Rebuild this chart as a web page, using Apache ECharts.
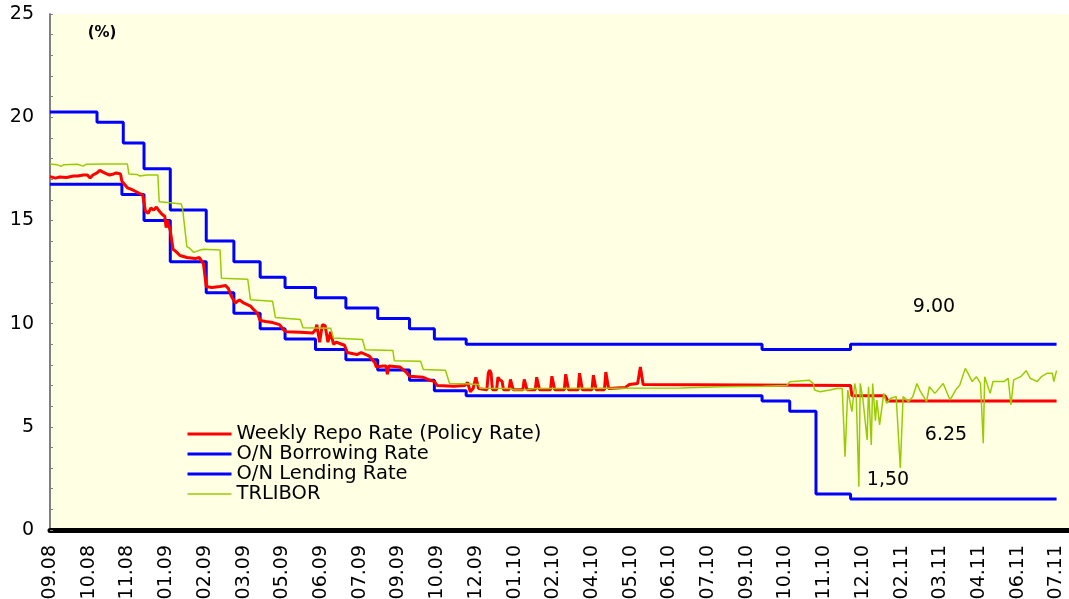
<!DOCTYPE html>
<html>
<head>
<meta charset="utf-8">
<script src="https://cdn.jsdelivr.net/npm/echarts@6/dist/echarts.min.js"></script>
<style>
html,body{margin:0;padding:0;background:#fff;}
#chart{width:1069px;height:599px;}
</style>
</head>
<body>
<div id="chart"></div>
<script>
// x = business-day index from 09.08 (one tick label every 28 days)
const tickLabels = ['09.08','10.08','11.08','01.09','02.09','03.09','05.09','06.09','07.09','09.09','10.09','12.09','01.10','02.10','04.10','05.10','06.10','07.10','09.10','10.10','11.10','12.10','02.11','03.11','04.11','06.11','07.11'];
const daysPerTick = 28;

const seriesNames = ['Weekly Repo Rate (Policy Rate)','O/N Borrowing Rate','O/N Lending Rate','TRLIBOR'];

// O/N Lending Rate: [day, rate] change points (step)
const lendingRate = [[0,20.25],[34,19.75],[53,18.75],[68,17.5],[87,15.5],[113,14.0],[133,13.0],[152,12.25],[170,11.75],[192,11.25],[214,10.75],[237,10.25],[260,9.75],[278,9.25],[301,9.0],[515,8.75],[579,9.0],[728,9.0]];

// O/N Borrowing Rate: [day, rate] change points (step)
const borrowingRate = [[0,16.75],[52,16.25],[68,15.0],[87,13.0],[113,11.5],[133,10.5],[152,9.75],[170,9.25],[192,8.75],[214,8.25],[237,7.75],[260,7.25],[278,6.75],[301,6.5],[515,6.25],[535,5.75],[554,1.75],[579,1.5],[728,1.5]];

// Weekly repo rate: [day, rate]
const repoRate = [[0,17.12],[4,17.05],[7,17.1],[12,17.08],[17,17.15],[20,17.15],[24,17.2],[27,17.2],[29,17.05],[31,17.2],[34,17.3],[36,17.42],[38,17.35],[41,17.25],[43,17.2],[46,17.25],[48,17.3],[51,17.25],[52,16.9],[56,16.58],[59,16.5],[62,16.4],[65,16.3],[67,16.25],[69,15.45],[71,15.35],[73,15.6],[75,15.5],[77,15.65],[79,15.45],[81,15.3],[83,15.2],[84,14.65],[85,15.0],[87,14.5],[89,13.6],[91,13.5],[94,13.3],[99,13.2],[105,13.15],[108,13.2],[111,12.9],[113,11.8],[117,11.75],[123,11.8],[127,11.85],[129,11.7],[131,11.35],[134,11.0],[137,11.15],[140,11.0],[145,10.85],[147,10.7],[150,10.5],[152,10.15],[156,10.1],[161,10.05],[166,9.95],[169,9.7],[171,9.6],[181,9.58],[190,9.55],[192,9.7],[193,9.95],[195,9.1],[197,9.95],[199,9.9],[201,9.1],[203,9.6],[205,9.0],[207,9.1],[211,9.0],[213,8.95],[215,8.6],[222,8.5],[225,8.6],[231,8.42],[235,8.1],[236,7.9],[241,7.95],[243,7.95],[244,7.55],[245,7.95],[253,7.9],[258,7.62],[260,7.45],[270,7.4],[275,7.25],[278,7.2],[280,7.0],[292,6.97],[300,7.0],[302,7.15],[304,6.7],[306,6.85],[307,6.85],[308,7.4],[309,7.45],[310,6.85],[316,6.8],[317,7.6],[318,7.75],[319,7.6],[320,6.8],[323,6.8],[324,7.4],[325,7.3],[326,7.35],[327,7.2],[328,6.8],[332,6.8],[333,7.3],[334,7.25],[335,6.8],[342,6.8],[343,7.3],[344,7.25],[345,6.8],[351,6.8],[352,7.4],[353,7.35],[354,6.8],[362,6.8],[363,7.45],[364,7.4],[365,6.8],[372,6.8],[373,7.55],[374,7.5],[375,6.8],[382,6.8],[383,7.6],[384,7.55],[385,6.8],[392,6.8],[393,7.5],[394,7.45],[395,6.8],[401,6.8],[402,7.65],[403,7.6],[404,6.85],[416,6.9],[419,7.05],[425,7.1],[426,7.1],[427,7.9],[428,7.85],[429,7.05],[430,7.0],[579,7.0],[580,6.5],[604,6.5],[606,6.25],[728,6.25]];

// TRLIBOR: [day, rate]
const trlibor = [[0,17.73],[5,17.7],[8,17.62],[10,17.7],[20,17.72],[24,17.63],[26,17.72],[40,17.73],[56,17.73],[57,17.25],[63,17.22],[65,17.15],[70,17.2],[78,17.2],[79,15.9],[87,15.85],[95,15.8],[96,15.5],[99,13.73],[101,13.65],[104,13.45],[106,13.5],[108,13.55],[111,13.6],[123,13.57],[124,12.2],[143,12.15],[145,11.15],[161,11.08],[163,10.3],[181,10.2],[183,9.8],[203,9.78],[205,9.3],[226,9.23],[228,8.73],[248,8.7],[249,8.2],[268,8.18],[270,7.78],[286,7.74],[289,7.1],[300,7.08],[310,7.05],[311,6.87],[333,6.85],[336,6.78],[345,6.8],[350,6.86],[400,6.87],[456,6.88],[487,6.94],[516,6.97],[533,7.0],[535,7.18],[549,7.26],[552,7.1],[553,6.78],[557,6.7],[564,6.78],[569,6.86],[573,6.86],[575,3.55],[577,6.78],[580,5.73],[582,7.1],[583,6.78],[585,2.1],[586,7.1],[588,6.3],[591,4.36],[592,6.94],[594,4.12],[595,7.1],[597,5.3],[598,6.3],[600,5.09],[603,6.62],[605,6.14],[608,6.38],[612,6.46],[615,3.0],[617,6.46],[621,6.22],[624,6.46],[627,7.1],[629,6.78],[634,6.22],[636,6.94],[640,6.62],[646,7.1],[651,6.3],[655,6.78],[658,7.02],[662,7.83],[664,7.59],[667,7.19],[670,7.43],[673,7.1],[675,4.2],[676,7.43],[680,6.62],[682,7.19],[690,7.19],[693,7.35],[695,6.06],[697,7.27],[702,7.43],[706,7.72],[709,7.35],[714,7.19],[717,7.43],[721,7.59],[725,7.59],[726,7.19],[728,7.72]];

const FONT = 'DejaVu Sans';
const chart = echarts.init(document.getElementById('chart'), null, {renderer:'canvas'});
chart.setOption({
  animation: false,
  backgroundColor: '#ffffff',
  grid: {left: 50, right: 0, top: 14, bottom: 69, show: true, backgroundColor: '#FFFFE4', borderWidth: 0, containLabel: false, outerBoundsMode: 'none'},
  xAxis: [{
    type: 'value', min: 0, max: 737, interval: daysPerTick,
    axisLine: {show: true, onZero: false, lineStyle: {color: '#000', width: 5}},
    axisTick: {show: false},
    splitLine: {show: false},
    axisLabel: {
      rotate: 90, margin: 15, color: '#000', fontFamily: FONT, fontSize: 19,
      showMinLabel: true, showMaxLabel: true,
      formatter: function (v) { const k = v / daysPerTick; return Number.isInteger(k) && tickLabels[k] ? tickLabels[k] : ''; }
    }
  }, {
    type: 'value', position: 'top', min: 0, max: 737,
    axisLine: {show: true, lineStyle: {color: '#000', width: 2}},
    axisTick: {show: false}, axisLabel: {show: false}, splitLine: {show: false}
  }],
  yAxis: {
    type: 'value', min: 0, max: 25, interval: 5,
    axisLine: {show: true, lineStyle: {color: '#808080', width: 2}},
    axisTick: {show: true, inside: true, length: 3, lineStyle: {color: '#808080', width: 1}},
    minorTick: {show: true, splitNumber: 5, length: 3, lineStyle: {color: '#808080', width: 1}},
    splitLine: {show: false},
    axisLabel: {color: '#000', fontFamily: FONT, fontSize: 19, margin: 16}
  },
  legend: {
    data: [
      {name: seriesNames[0], lineStyle: {width: 3}},
      {name: seriesNames[1], lineStyle: {width: 3}},
      {name: seriesNames[2], lineStyle: {width: 3}},
      {name: seriesNames[3], lineStyle: {width: 1.5}}
    ],
    orient: 'vertical', left: 186, top: 424, padding: 0, itemGap: 0,
    itemWidth: 44, itemHeight: 10,
    itemStyle: {opacity: 0},
    textStyle: {color: '#000', fontFamily: FONT, fontSize: 19.5, lineHeight: 18.8}
  },
  series: [
    {name: seriesNames[1], type: 'line', step: 'end', data: borrowingRate, symbol: 'none', lineStyle: {color: '#0000FF', width: 3}, itemStyle: {color: '#0000FF'}},
    {name: seriesNames[2], type: 'line', step: 'end', data: lendingRate, symbol: 'none', lineStyle: {color: '#0000FF', width: 3}, itemStyle: {color: '#0000FF'}},
    {name: seriesNames[0], type: 'line', data: repoRate, symbol: 'none', lineStyle: {color: '#FF0000', width: 3}, itemStyle: {color: '#FF0000'}},
    {name: seriesNames[3], type: 'line', data: trlibor, symbol: 'none', lineStyle: {color: '#99CC00', width: 1.5}, itemStyle: {color: '#99CC00'}}
  ],
  graphic: [
    {type: 'text', x: 102, y: 33, style: {text: '(%)', fill: '#000', fontFamily: FONT, fontSize: 15, fontWeight: 'bold', textAlign: 'center', textVerticalAlign: 'middle'}},
    {type: 'text', x: 934, y: 307, style: {text: '9.00', fill: '#000', fontFamily: FONT, fontSize: 19, textAlign: 'center', textVerticalAlign: 'middle'}},
    {type: 'text', x: 946, y: 435, style: {text: '6.25', fill: '#000', fontFamily: FONT, fontSize: 19, textAlign: 'center', textVerticalAlign: 'middle'}},
    {type: 'text', x: 888, y: 480, style: {text: '1,50', fill: '#000', fontFamily: FONT, fontSize: 19, textAlign: 'center', textVerticalAlign: 'middle'}}
  ]
});
</script>
</body>
</html>
